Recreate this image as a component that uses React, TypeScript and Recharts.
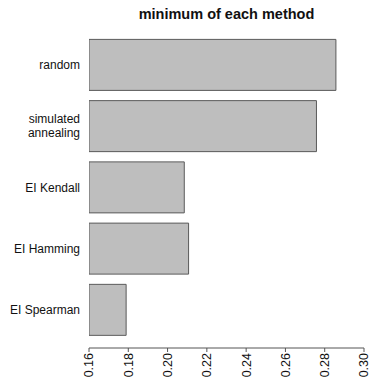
import { Bar, BarChart, XAxis, YAxis } from "recharts";

const methods = ["random", "simulated\nannealing", "EI Kendall", "EI Hamming", "EI Spearman"];
const minimums = [0.2857, 0.2758, 0.2085, 0.2107, 0.1789];
const xTicks = [0.16, 0.18, 0.2, 0.22, 0.24, 0.26, 0.28, 0.3];

const data = methods.map((method, i) => ({ method, value: minimums[i] }));

const FONT = "'Liberation Sans', Arial, Helvetica, sans-serif";

function MethodTick({ x, y, payload }: any) {
  const lines = String(payload.value).split("\n");
  const lh = 14;
  const start = -((lines.length - 1) * lh) / 2;
  return (
    <text x={x} y={y} textAnchor="end" fontFamily={FONT} fontSize={12} fill="#111">
      {lines.map((l, i) => (
        <tspan key={i} x={x} dy={i === 0 ? start + 4 : lh}>
          {l}
        </tspan>
      ))}
    </text>
  );
}

function ValueTick({ x, y, payload }: any) {
  return (
    <g transform={`translate(${x},${y})`}>
      <text
        transform="rotate(-90)"
        textAnchor="end"
        dy="0.35em"
        fontFamily={FONT}
        fontSize={12.5}
        fill="#111"
      >
        {Number(payload.value).toFixed(2)}
      </text>
    </g>
  );
}

export default function App() {
  return (
    <div style={{ position: "fixed", left: 0, top: 0, width: 382, height: 382, background: "#fff" }}>
      <div
        style={{
          position: "absolute",
          left: 89,
          width: 275,
          top: 6,
          textAlign: "center",
          fontFamily: FONT,
          fontWeight: "bold",
          fontSize: 14.5,
          lineHeight: "17px",
          color: "#111",
        }}
      >
        minimum of each method
      </div>
      <BarChart
        width={382}
        height={382}
        data={data}
        layout="vertical"
        margin={{ top: 34.5, right: 18, bottom: 0, left: 0 }}
        barCategoryGap="8%"
      >
        <XAxis
          type="number"
          domain={[0.16, 0.3]}
          ticks={xTicks}
          allowDataOverflow
          height={34}
          stroke="#555"
          tickSize={4}
          tickMargin={1}
          tick={<ValueTick />}
          interval={0}
        />
        <YAxis
          type="category"
          dataKey="method"
          width={89}
          axisLine={false}
          tickLine={false}
          tickSize={0}
          tickMargin={9}
          padding={{ top: 0, bottom: 7.3 }}
          tick={<MethodTick />}
          interval={0}
        />
        <Bar
          dataKey="value"
          fill="#BEBEBE"
          stroke="#5a5a5a"
          strokeWidth={1}
          isAnimationActive={false}
        />
      </BarChart>
    </div>
  );
}
